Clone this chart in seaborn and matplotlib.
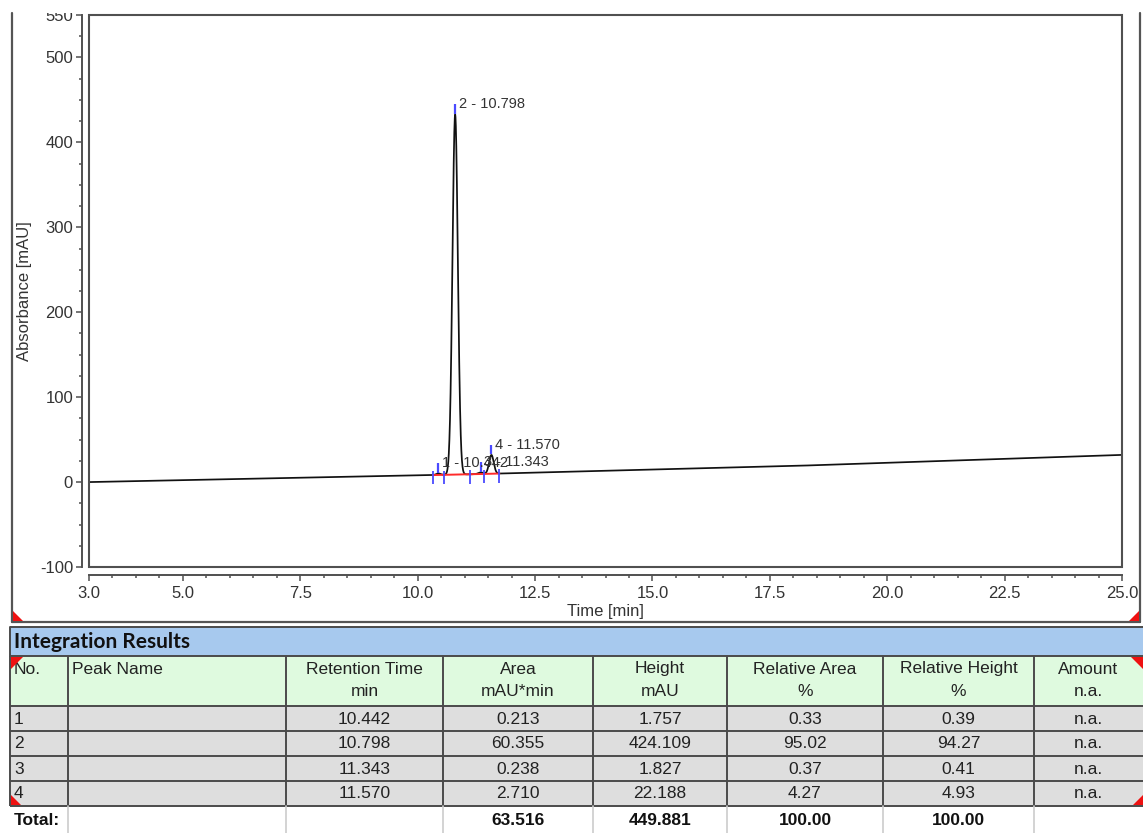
import numpy as np
import pandas as pd
import matplotlib
matplotlib.use("Agg")
import matplotlib.pyplot as plt
from matplotlib.patches import Rectangle, Polygon
from matplotlib.ticker import FixedLocator, MultipleLocator, FormatStrFormatter
import seaborn as sns

# ---- integration results ----
peak_no = [1, 2, 3, 4]
peak_name = ["", "", "", ""]
retention_time = [10.442, 10.798, 11.343, 11.570]
peak_area = [0.213, 60.355, 0.238, 2.710]
peak_height = [1.757, 424.109, 1.827, 22.188]
rel_area = [0.33, 95.02, 0.37, 4.27]
rel_height = [0.39, 94.27, 0.41, 4.93]
amount = ["n.a.", "n.a.", "n.a.", "n.a."]
total_area = 63.516
total_height = 449.881
total_rel_area = 100.00
total_rel_height = 100.00

# ---- detector baseline drift (min, mAU) ----
baseline_time = [3.0, 11.0, 18.0, 25.0]
baseline_level = [0.0, 9.0, 19.0, 32.0]

# ---- integration delimiters (min) ----
delimiter_time = [10.32, 10.56, 11.115, 11.42, 11.74]

# ---- axes ----
x_ticks = [3.0, 5.0, 7.5, 10.0, 12.5, 15.0, 17.5, 20.0, 22.5, 25.0]
y_ticks = [-100, 0, 100, 200, 300, 400, 500, 550]
x_range = (3.0, 25.0)
y_range = (-100, 550)

W, H = 1143, 833
sns.set_theme(style="white")
plt.rcParams["font.family"] = ["Liberation Sans", "DejaVu Sans"]
plt.rcParams["axes.unicode_minus"] = False

fig = plt.figure(figsize=(W / 100, H / 100), dpi=100)
fig.patch.set_facecolor("white")


def fbox(x0, y0, x1, y1):
    """pixel box (top-left origin) -> figure fraction rect"""
    return [x0 / W, 1 - y1 / H, (x1 - x0) / W, (y1 - y0) / H]


# ---- chromatogram trace built from the peak table ----
t = np.linspace(x_range[0], x_range[1], 8801)
base = np.interp(t, baseline_time, baseline_level)
signal = base.copy()
for rt, h, a in zip(retention_time, peak_height, peak_area):
    sigma = a / (h * np.sqrt(2 * np.pi))
    signal += h * np.exp(-0.5 * ((t - rt) / sigma) ** 2)
trace = pd.DataFrame({"time": t, "signal": signal})

ax = fig.add_axes(fbox(89, 15, 1122, 567))
sns.lineplot(data=trace, x="time", y="signal", ax=ax, color="#111111",
             linewidth=1.25, estimator=None, sort=False)

# integration baseline
sel = (t >= delimiter_time[0]) & (t <= delimiter_time[-1])
ax.plot(t[sel], base[sel], color="#ff2a2a", lw=1.4, zorder=4)

# delimiters
blue = "#4a4aff"
for d in delimiter_time:
    b = np.interp(d, baseline_time, baseline_level)
    ax.vlines(d, b - 11, b + 5, color=blue, lw=1.3, zorder=5)

# apex markers and labels
for no, rt, h in zip(peak_no, retention_time, peak_height):
    apex = np.interp(rt, baseline_time, baseline_level) + h
    ax.vlines(rt, apex + 1, apex + 12, color=blue, lw=1.6, zorder=5)
    ax.annotate(f"{no} - {rt:.3f}", (rt, apex + 12), xytext=(2.5, 0),
                textcoords="offset points", ha="left", va="center",
                fontsize=10.5, color="#333333", zorder=6)

ax.set_xlim(*x_range)
ax.set_ylim(*y_range)
ax.xaxis.set_major_locator(FixedLocator(x_ticks))
ax.xaxis.set_minor_locator(MultipleLocator(0.5))
ax.xaxis.set_major_formatter(FormatStrFormatter("%.1f"))
ax.yaxis.set_major_locator(FixedLocator(y_ticks))
ax.yaxis.set_minor_locator(MultipleLocator(25))

spine_col = "#505050"
for s in ["top", "right"]:
    ax.spines[s].set_visible(False)
for s in ["left", "bottom"]:
    ax.spines[s].set_color(spine_col)
    ax.spines[s].set_linewidth(1.4)
ax.spines["left"].set_position(("outward", 5))
ax.spines["bottom"].set_position(("outward", 6))
ax.add_patch(Rectangle((0, 0), 1, 1, transform=ax.transAxes, fill=False,
                       ec=spine_col, lw=1.5, clip_on=False, zorder=10))

ax.tick_params(axis="both", which="major", direction="out", length=4.5,
               width=1.1, color=spine_col, labelcolor="#333333", labelsize=12)
ax.tick_params(axis="both", which="minor", direction="out", length=2.4,
               width=1.1, color=spine_col)
ax.tick_params(axis="x", which="major", pad=3.2)
ax.tick_params(axis="y", which="major", pad=2)
ax.tick_params(axis="both", which="both", bottom=True, left=True)

ax.set_xlabel("Time [min]", fontsize=12, color="#333333")
ax.set_ylabel("Absorbance [mAU]", fontsize=12, color="#333333")
ax.xaxis.label.set_va("center")
ax.yaxis.label.set_va("center")
ax.xaxis.set_label_coords(0.5, -0.0815)
ax.yaxis.set_label_coords(-0.0625, 0.5)
ax.grid(False)

# ---- overlay: panel frame and table (pixel coordinates) ----
ov = fig.add_axes([0, 0, 1, 1])
ov.set_xlim(0, W)
ov.set_ylim(H, 0)
ov.axis("off")
ov.patch.set_alpha(0)

# clip band at the top of the chart panel
ov.add_patch(Rectangle((0, 0), W, 12.5, fc="white", ec="none", zorder=1))

frame_col = "#555555"
ov.plot([12, 12], [12.5, 622], color=frame_col, lw=1.6)
ov.plot([1140, 1140], [12.5, 622], color=frame_col, lw=1.6)
ov.plot([12, 1140], [622, 622], color=frame_col, lw=1.6)

red = "#ee1111"
ov.add_patch(Polygon([[13, 611], [13, 621], [23, 621]], closed=True, fc=red, ec="none", zorder=5))
ov.add_patch(Polygon([[1139, 611], [1139, 621], [1129, 621]], closed=True, fc=red, ec="none", zorder=5))

# table layout
col_edges = [10, 68, 286, 443, 593, 727, 883, 1034, 1143]
bar_top, bar_bot = 627, 656
head_bot = 706
row_h = 25
rows_top = [head_bot + i * row_h for i in range(len(peak_no))]
total_top = head_bot + len(peak_no) * row_h
total_bot = H

ov.add_patch(Rectangle((10, bar_top), W - 10, bar_bot - bar_top, fc="#a7c9ee", ec="none"))
ov.add_patch(Rectangle((10, bar_bot), W - 10, head_bot - bar_bot, fc="#dffadf", ec="none"))
ov.add_patch(Rectangle((10, head_bot), W - 10, total_top - head_bot, fc="#dedede", ec="none"))

ov.text(14, (bar_top + bar_bot) / 2 + 1, "Integration Results", fontsize=15,
        fontweight="bold", family=["Lato", "DejaVu Sans"], ha="left", va="center", color="#111111")

line_col = "#4a4a4a"
for y in [bar_top, bar_bot, head_bot] + rows_top[1:] + [total_top]:
    ov.plot([10, W], [y, y], color=line_col, lw=1.4, solid_capstyle="butt")
for x in col_edges[:-1]:
    ov.plot([x, x], [bar_bot, total_top], color=line_col, lw=1.4, solid_capstyle="butt")
ov.plot([10, 10], [bar_top, bar_bot], color=line_col, lw=1.4)
for x in col_edges[1:-1]:
    ov.plot([x, x], [total_top, total_bot], color="#cccccc", lw=1.2)

headers = [("No.", ""), ("Peak Name", ""), ("Retention Time", "min"),
           ("Area", "mAU*min"), ("Height", "mAU"), ("Relative Area", "%"),
           ("Relative Height", "%"), ("Amount", "n.a.")]
fs = 12.5
txt_col = "#222222"
for i, (l1, l2) in enumerate(headers):
    x0, x1 = col_edges[i], col_edges[i + 1]
    if i < 2:
        ov.text(x0 + 4, 669, l1, fontsize=fs, ha="left", va="center", color=txt_col)
    else:
        cx = (x0 + x1) / 2
        ov.text(cx, 669, l1, fontsize=fs, ha="center", va="center", color=txt_col)
        ov.text(cx, 691, l2, fontsize=fs, ha="center", va="center", color=txt_col)


def centre(ci):
    return (col_edges[ci] + col_edges[ci + 1]) / 2


for r, ytop in enumerate(rows_top):
    yc = ytop + row_h / 2 + 0.5
    ov.text(col_edges[0] + 4, yc, str(peak_no[r]), fontsize=fs, ha="left", va="center", color=txt_col)
    ov.text(col_edges[1] + 4, yc, peak_name[r], fontsize=fs, ha="left", va="center", color=txt_col)
    vals = [f"{retention_time[r]:.3f}", f"{peak_area[r]:.3f}", f"{peak_height[r]:.3f}",
            f"{rel_area[r]:.2f}", f"{rel_height[r]:.2f}", amount[r]]
    for k, v in enumerate(vals):
        ov.text(centre(k + 2), yc, v, fontsize=fs, ha="center", va="center", color=txt_col)

yc = (total_top + total_bot) / 2 + 1
ov.text(col_edges[0] + 4, yc, "Total:", fontsize=fs, fontweight="bold", ha="left", va="center", color="#111111")
for k, v in zip([3, 4, 5, 6], [f"{total_area:.3f}", f"{total_height:.3f}",
                               f"{total_rel_area:.2f}", f"{total_rel_height:.2f}"]):
    ov.text(centre(k), yc, v, fontsize=fs, fontweight="bold", ha="center", va="center", color="#111111")

# corner markers of the table
ov.add_patch(Polygon([[11, bar_bot + 1], [23, bar_bot + 1], [11, bar_bot + 13]], closed=True, fc=red, ec="none", zorder=5))
ov.add_patch(Polygon([[W, bar_bot + 1], [W - 12, bar_bot + 1], [W, bar_bot + 13]], closed=True, fc=red, ec="none", zorder=5))
ov.add_patch(Polygon([[11, total_top - 1], [21, total_top - 1], [11, total_top - 11]], closed=True, fc=red, ec="none", zorder=5))
ov.add_patch(Polygon([[W, total_top - 1], [W - 10, total_top - 1], [W, total_top - 11]], closed=True, fc=red, ec="none", zorder=5))

fig.savefig("out.png", dpi=100)
